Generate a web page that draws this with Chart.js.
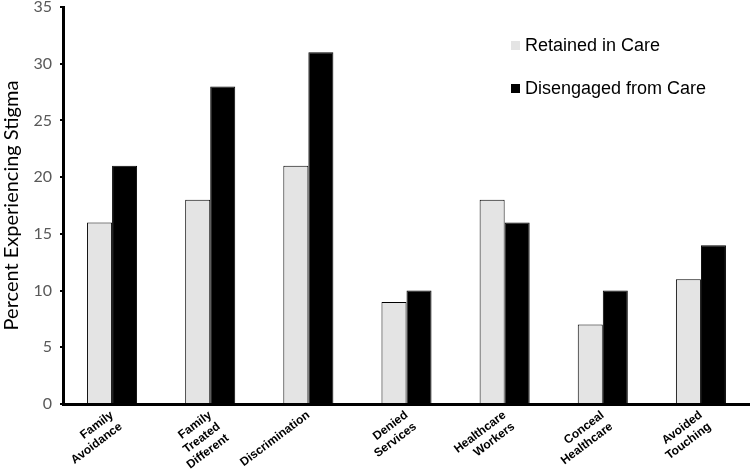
<!DOCTYPE html>
<html>
<head>
<meta charset="utf-8">
<script src="https://cdn.jsdelivr.net/npm/chart.js@4/dist/chart.umd.min.js"></script>
<style>
  html, body { margin: 0; padding: 0; background: #fff; }
  #wrap { position: relative; width: 750px; height: 473px; }
  #legend { position: absolute; left: 511px; top: 33px; font: 18px "Liberation Sans", Arial, sans-serif; color: #000; }
  #legend div { display: flex; align-items: center; height: 24px; margin-bottom: 19px; }
  #legend span.box { width: 9px; height: 9px; margin-right: 5px; display: inline-block; }
</style>
</head>
<body>
<div id="wrap">
  <canvas id="chart" width="750" height="473"></canvas>
  <div id="legend"></div>
</div>
<script>
const categories = [
  ["Family", "Avoidance"],
  ["Family", "Treated", "Different"],
  ["Discrimination"],
  ["Denied", "Services"],
  ["Healthcare", "Workers"],
  ["Conceal", "Healthcare"],
  ["Avoided", "Touching"]
];
const retained = [16, 18, 21, 9, 18, 7, 11];
const disengaged = [21, 28, 31, 10, 16, 10, 14];
const yTicks = [0, 5, 10, 15, 20, 25, 30, 35];

const series = [
  { label: "Retained in Care", data: retained, color: "#e4e4e4" },
  { label: "Disengaged from Care", data: disengaged, color: "#000000" }
];

const canvas = document.getElementById("chart");

new Chart(canvas, {
  type: "bar",
  data: {
    labels: categories,
    datasets: series.map((s) => ({
      label: s.label,
      data: s.data,
      backgroundColor: s.color,
      borderColor: "#000",
      borderWidth: 1,
      borderSkipped: "bottom",
      categoryPercentage: 0.51,
      barPercentage: 1.0
    }))
  },
  options: {
    responsive: false,
    animation: false,
    layout: { padding: { top: 0, right: 0, left: 0, bottom: 0 } },
    plugins: {
      legend: { display: false },
      tooltip: { enabled: false }
    },
    scales: {
      x: {
        afterFit: (axis) => { axis.height = 69; },
        grid: { display: false, drawTicks: false },
        border: { color: "#000", width: 3 },
        ticks: {
          color: "#000",
          font: { family: "'Liberation Sans', Arial, sans-serif", size: 12, weight: "bold" },
          maxRotation: 37,
          minRotation: 37,
          padding: 4
        }
      },
      y: {
        min: 0,
        max: 35,
        afterFit: (axis) => { axis.width = 63; axis.paddingTop = 7; },
        afterBuildTicks: (axis) => { axis.ticks = yTicks.map((v) => ({ value: v })); },
        grid: { drawOnChartArea: false, color: "#000", tickLength: 3, lineWidth: 2 },
        border: { color: "#000", width: 3 },
        ticks: {
          color: "#595959",
          font: { family: "Lato, sans-serif", size: 16 },
          padding: 8
        },
        title: {
          display: true,
          text: "Percent Experiencing Stigma",
          color: "#000",
          font: { family: "Lato, sans-serif", size: 20 },
          padding: { top: 0, bottom: 4 }
        }
      }
    }
  }
});

const legend = document.getElementById("legend");
series.forEach((s) => {
  const row = document.createElement("div");
  row.innerHTML = '<span class="box" style="background:' + s.color + '"></span>' + s.label;
  legend.appendChild(row);
});
</script>
</body>
</html>
